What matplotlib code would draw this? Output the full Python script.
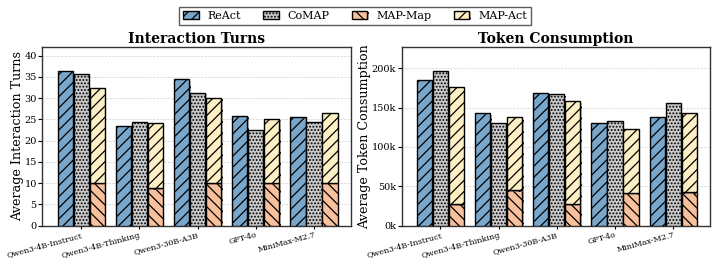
import numpy as np
import matplotlib
matplotlib.use('Agg')
import matplotlib.pyplot as plt
import matplotlib.patheffects as pe
from matplotlib.ticker import FuncFormatter

# data
models = ['Qwen3-4B-Instruct', 'Qwen3-4B-Thinking', 'Qwen3-30B-A3B', 'GPT-4o', 'MiniMax-M2.7']

turns_react = [36.3, 23.4, 34.4, 25.8, 25.6]
turns_comap = [35.6, 24.5, 31.3, 22.6, 24.5]
turns_map_map = [10.0, 8.8, 10.0, 10.0, 10.0]
turns_map_total = [32.5, 24.1, 30.1, 25.2, 26.6]

tokens_react = [185000, 143000, 168500, 130000, 138000]
tokens_comap = [196500, 130000, 167000, 133000, 156000]
tokens_map_map = [27000, 45000, 27000, 41500, 42500]
tokens_map_total = [176000, 138000, 158000, 122500, 143000]

plt.rcParams['font.family'] = 'DejaVu Serif'
plt.rcParams['hatch.linewidth'] = 0.9

c_react = '#79a6cb'
c_comap = '#cbcbcb'
c_map = '#f8c09c'
c_act = '#fdf0c4'

shadow = [pe.SimplePatchShadow(offset=(1.0, -1.0), shadow_rgbFace='gray', alpha=0.5), pe.Normal()]

fig, axes = plt.subplots(1, 2, figsize=(7.17, 2.62), dpi=100)
fig.subplots_adjust(left=0.059, right=0.99, top=0.82, bottom=0.139, wspace=0.165)

x = np.arange(len(models))
w = 0.26
off = 0.275


def draw(ax, react, comap, mmap, total, title, ylabel, ymax):
    act = np.array(total) - np.array(mmap)
    kw = dict(edgecolor='black', linewidth=1.0, zorder=3)
    b1 = ax.bar(x - off, react, w, color=c_react, hatch='///', label='ReAct', **kw)
    b2 = ax.bar(x, comap, w, color=c_comap, hatch='.....', label='CoMAP', **kw)
    b3 = ax.bar(x + off, mmap, w, color=c_map, hatch='\\\\\\', label='MAP-Map', **kw)
    b4 = ax.bar(x + off, act, w, bottom=mmap, color=c_act, hatch='///', label='MAP-Act', **kw)
    for bars in (b1, b2, b3, b4):
        for p in bars:
            p.set_path_effects(shadow)
    ax.set_title(title, fontsize=10, fontweight='bold', pad=3)
    ax.set_ylabel(ylabel, fontsize=9.2, labelpad=0)
    ax.set_ylim(0, ymax)
    ax.set_xlim(-0.67, 4.63)
    ax.set_xticks(x)
    ax.set_xticklabels(models, rotation=15, ha='right', rotation_mode='anchor', fontsize=5.8)
    ax.tick_params(axis='y', labelsize=7, length=3, pad=1)
    ax.tick_params(axis='x', length=2, pad=2)
    ax.yaxis.grid(True, linestyle='--', linewidth=0.5, color='#d0d0d0', zorder=0)
    ax.set_axisbelow(True)
    for s in ax.spines.values():
        s.set_linewidth(1.0)
        s.set_color('#333333')
    return [b1, b2, b3, b4]


handles = draw(axes[0], turns_react, turns_comap, turns_map_map, turns_map_total,
               'Interaction Turns', 'Average Interaction Turns', 42)
axes[0].set_yticks(np.arange(0, 41, 5))

draw(axes[1], tokens_react, tokens_comap, tokens_map_map, tokens_map_total,
     'Token Consumption', 'Average Token Consumption', 227000)
axes[1].set_yticks(np.arange(0, 200001, 50000))
axes[1].yaxis.set_major_formatter(FuncFormatter(lambda v, p: '%dk' % int(v / 1000)))

fig.legend(handles=handles, labels=['ReAct', 'CoMAP', 'MAP-Map', 'MAP-Act'],
           loc='upper center', bbox_to_anchor=(0.495, 0.995), ncol=4, fontsize=8,
           frameon=True, fancybox=False, edgecolor='#333333', handlelength=1.4,
           columnspacing=2.0, borderpad=0.35)

fig.savefig('out.png', dpi=100)
